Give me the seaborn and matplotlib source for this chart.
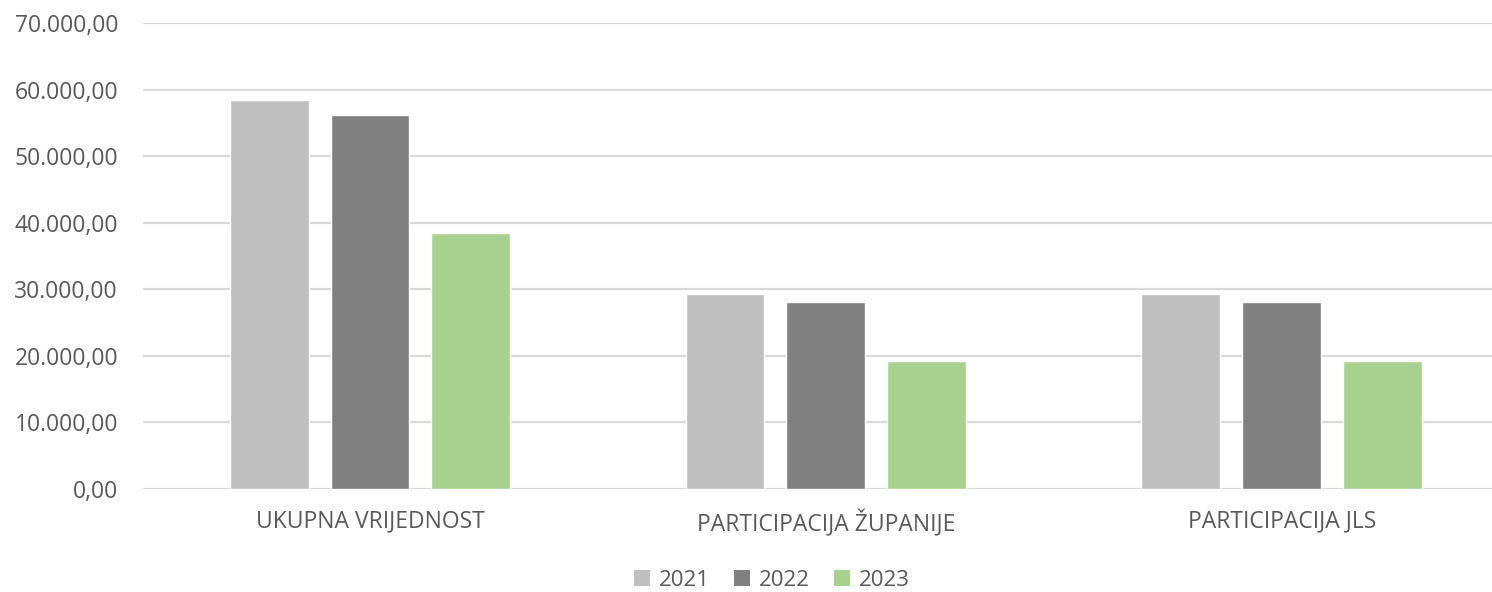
import matplotlib
matplotlib.use("Agg")
import matplotlib.pyplot as plt
import seaborn as sns
import pandas as pd
from matplotlib.ticker import FuncFormatter, MultipleLocator
from matplotlib.patches import Patch

categories = ["UKUPNA VRIJEDNOST", "PARTICIPACIJA ŽUPANIJE", "PARTICIPACIJA JLS"]
years = ["2021", "2022", "2023"]
values_2021 = [58500, 29250, 29250]
values_2022 = [56200, 28100, 28100]
values_2023 = [38500, 19250, 19250]
colors = ["#BFBFBF", "#808080", "#A9D18E"]

rows = []
for yr, vals in zip(years, [values_2021, values_2022, values_2023]):
    for c, v in zip(categories, vals):
        rows.append({"cat": c, "year": yr, "val": v})
df = pd.DataFrame(rows)

sns.set_style("white")
plt.rcParams['font.family'] = ['Open Sans', 'DejaVu Sans']
txt = "#595959"

fig = plt.figure(figsize=(14.92, 5.92), dpi=100)
ax = fig.add_axes([143/1492, 103/592, (1492-143)/1492, 466/592])
sns.barplot(data=df, x="cat", y="val", hue="year", order=categories, hue_order=years,
            palette=colors, width=0.664, gap=0.218, saturation=1, ax=ax, legend=False)

ax.set_xlim(-0.498, 2.461)
ax.set_ylim(0, 70000)
ax.yaxis.set_major_locator(MultipleLocator(10000))
def fmt(v, p):
    s = f"{v:,.2f}"
    return s.replace(",", "X").replace(".", ",").replace("X", ".")
ax.yaxis.set_major_formatter(FuncFormatter(fmt))
ax.grid(axis="y", color="#D9D9D9", linewidth=1.6)
ax.set_axisbelow(True)
for s in ax.spines.values():
    s.set_visible(False)
ax.set_xlabel("")
ax.set_ylabel("")
ax.tick_params(axis="y", length=0, labelsize=16.5, labelcolor=txt, pad=18)
ax.tick_params(axis="x", length=0, labelsize=16.5, labelcolor=txt, pad=15)

handles = [Patch(facecolor=c, edgecolor="none") for c in colors]
fig.legend(handles, years, loc="center", bbox_to_anchor=(772/1492, 12/592), ncol=3,
           frameon=False, fontsize=16, labelcolor=txt, handlelength=0.7, handleheight=0.7,
           handletextpad=0.4, columnspacing=1.1)

fig.savefig("out.png", dpi=100)
